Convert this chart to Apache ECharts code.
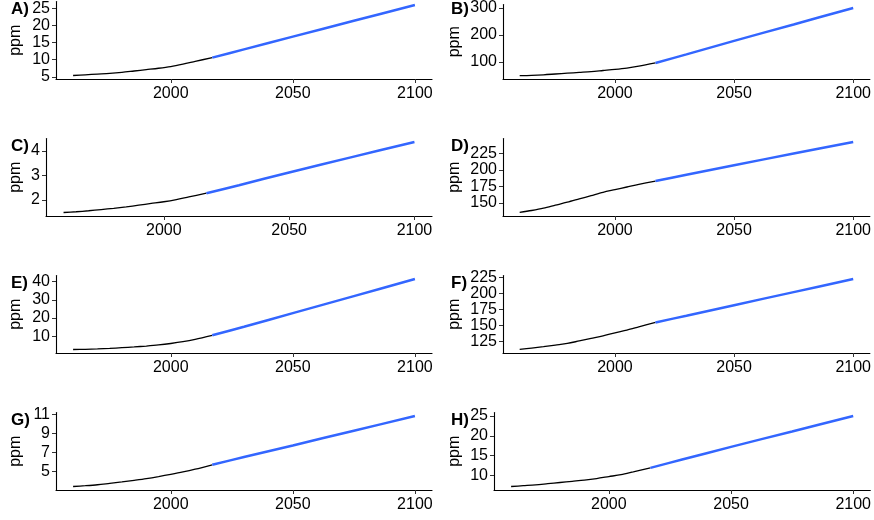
<!DOCTYPE html>
<html>
<head>
<meta charset="utf-8">
<script src="https://cdn.jsdelivr.net/npm/echarts@6/dist/echarts.min.js"></script>
<style>
html,body{margin:0;padding:0;background:#fff;}
#chart{width:874px;height:520px;}
</style>
</head>
<body>
<div id="chart"></div>
<script>
// ---- data ----
const yearsHist = [1960,1965,1970,1975,1980,1985,1990,1995,2000,2005,2010,2017];
const yearsProj = [2017,2030,2050,2075,2100];
const xTicks = [2000,2050,2100];

const A_hist = [5.4,5.6,5.8,6.0,6.3,6.7,7.1,7.5,8.0,8.7,9.5,10.6];
const A_proj = [10.6,13.0,16.7,21.3,25.9];
const A_ticks = [5,10,15,20,25];

const B_hist = [49,50,52,55,58,61,64,68,72,77,84,96];
const B_proj = [96,128,178,239,300];
const B_ticks = [100,200,300];

const C_hist = [1.48,1.51,1.55,1.60,1.65,1.71,1.78,1.85,1.92,2.01,2.12,2.27];
const C_proj = [2.27,2.60,3.12,3.75,4.37];
const C_ticks = [2,3,4];

const D_hist = [135.5,138.5,142,146.5,151,156,161,166,170,174,178,183];
const D_proj = [183,192.5,207,224.5,242];
const D_ticks = [150,175,200,225];

const E_hist = [2.7,2.8,3.0,3.3,3.7,4.1,4.6,5.2,6.0,7.0,8.3,10.5];
const E_proj = [10.5,15.2,22.7,32.1,41.5];
const E_ticks = [10,20,30,40];

const F_hist = [112.6,114.8,117,119.5,122,126,130,134,138.7,143,148,155];
const F_proj = [155,165.5,182,202.5,223];
const F_ticks = [125,150,175,200,225];

const G_hist = [3.42,3.5,3.6,3.75,3.9,4.07,4.25,4.46,4.69,4.94,5.23,5.69];
const G_proj = [5.69,6.5,7.72,9.26,10.8];
const G_ticks = [5,7,9,11];

const H_hist = [7.2,7.4,7.6,7.9,8.2,8.5,8.8,9.2,9.7,10.2,10.9,11.9];
const H_proj = [11.9,14.0,17.2,21.1,25.0];
const H_ticks = [10,15,20,25];

const panelLabels = ['A)','B)','C)','D)','E)','F)','G)','H)'];
const yName = 'ppm';

// ---- layout ----
const panels = [
  {hist:A_hist, proj:A_proj, ticks:A_ticks, col:0, row:0, axisX:56},
  {hist:B_hist, proj:B_proj, ticks:B_ticks, col:1, row:0, axisX:503},
  {hist:C_hist, proj:C_proj, ticks:C_ticks, col:0, row:1, axisX:46},
  {hist:D_hist, proj:D_proj, ticks:D_ticks, col:1, row:1, axisX:503},
  {hist:E_hist, proj:E_proj, ticks:E_ticks, col:0, row:2, axisX:56},
  {hist:F_hist, proj:F_proj, ticks:F_ticks, col:1, row:2, axisX:503},
  {hist:G_hist, proj:G_proj, ticks:G_ticks, col:0, row:3, axisX:56},
  {hist:H_hist, proj:H_proj, ticks:H_ticks, col:1, row:3, axisX:494}
];

const FONT = 'Liberation Sans, Arial, sans-serif';
const NAME_SIZE = 16;
const grids = [], xAxes = [], yAxes = [], series = [], graphics = [];
const fmt = v => String(v);

panels.forEach((p, i) => {
  const top = 1.5 + 137 * p.row;
  const height = 77.5;
  const colX = p.col === 0 ? 0 : 439;
  const rightEdge = p.col === 0 ? 432 : 871;
  grids.push({left: p.axisX, top: top, width: rightEdge - p.axisX, height: height, containLabel: false});
  xAxes.push({
    type: 'value', gridIndex: i, min: 1953, max: 2107,
    axisLine: {show: true, onZero: false, lineStyle: {color: '#000', width: 1.1}},
    axisTick: {show: true, length: 4, customValues: xTicks, lineStyle: {color: '#333', width: 1}},
    axisLabel: {customValues: xTicks, formatter: fmt, margin: 7, color: '#000', fontSize: 16, fontFamily: FONT},
    splitLine: {show: false}
  });
  const all = p.hist.concat(p.proj);
  const lo = Math.min.apply(null, all), hi = Math.max.apply(null, all);
  const pad = (hi - lo) * 0.05;
  yAxes.push({
    type: 'value', gridIndex: i, min: lo - pad, max: hi + pad,
    name: yName, nameLocation: 'middle', nameGap: p.axisX - colX - 15.5 - NAME_SIZE / 2,
    nameTextStyle: {fontSize: NAME_SIZE, color: '#000', fontFamily: FONT},
    axisLine: {show: true, onZero: false, lineStyle: {color: '#000', width: 1.1}},
    axisTick: {show: true, length: 4, customValues: p.ticks, lineStyle: {color: '#333', width: 1}},
    axisLabel: {customValues: p.ticks, formatter: fmt, margin: 6, color: '#000', fontSize: 16, fontFamily: FONT},
    splitLine: {show: false}
  });
  series.push({
    type: 'line', xAxisIndex: i, yAxisIndex: i, showSymbol: false, smooth: 0.3,
    data: yearsHist.map((y, k) => [y, p.hist[k]]),
    lineStyle: {color: '#000', width: 1.3}, silent: true, animation: false
  });
  series.push({
    type: 'line', xAxisIndex: i, yAxisIndex: i, showSymbol: false, smooth: 0.3,
    data: yearsProj.map((y, k) => [y, p.proj[k]]),
    lineStyle: {color: '#3366FF', width: 2.5}, silent: true, animation: false, z: 3
  });
  graphics.push({
    type: 'text', left: p.col === 0 ? 11 : 451, top: top - 0.5,
    style: {text: panelLabels[i], font: 'bold 17px ' + FONT, fill: '#000'}
  });
});

const chart = echarts.init(document.getElementById('chart'), null, {renderer: 'canvas'});
chart.setOption({
  animation: false,
  backgroundColor: '#fff',
  grid: grids, xAxis: xAxes, yAxis: yAxes, series: series, graphic: graphics
});
</script>
</body>
</html>
